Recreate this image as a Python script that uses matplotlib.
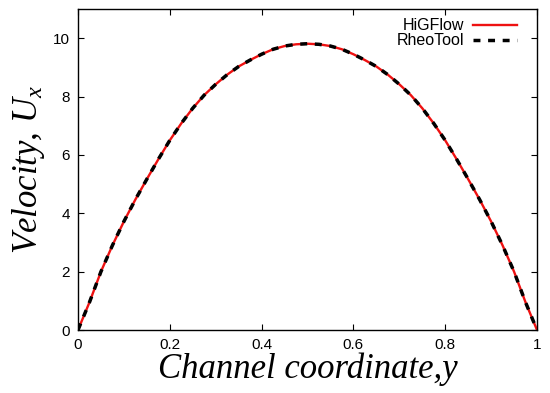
import matplotlib
matplotlib.use("Agg")
import matplotlib.pyplot as plt
from matplotlib.ticker import FuncFormatter

plt.rcParams["mathtext.fontset"] = "custom"
plt.rcParams["mathtext.it"] = "Liberation Serif:italic"
plt.rcParams["mathtext.rm"] = "Liberation Serif"

y_left = [0.0, 0.025, 0.05, 0.075, 0.1, 0.125, 0.15, 0.175, 0.2, 0.225, 0.25,
          0.275, 0.3, 0.325, 0.35, 0.375, 0.4, 0.425, 0.45, 0.475, 0.5]
u_left = [0.0, 0.95, 2.0, 2.9, 3.72, 4.47, 5.17, 5.85, 6.5, 7.08, 7.6,
          8.05, 8.42, 8.75, 9.03, 9.25, 9.45, 9.62, 9.73, 9.79, 9.81]

channel_y = y_left + [round(1 - v, 3) for v in reversed(y_left[:-1])]
higflow_u = u_left + list(reversed(u_left[:-1]))
rheotool_u = list(higflow_u)

x_ticks = [0, 0.2, 0.4, 0.6, 0.8, 1.0]
y_ticks = [0, 2, 4, 6, 8, 10]

fig = plt.figure(figsize=(5.5, 3.93), dpi=100)
ax = fig.add_axes([78/550, 1 - 330/393, (537-78)/550, (330-9)/393])

ax.plot(channel_y, higflow_u, color="#ee1111", lw=1.7, label="HiGFlow")
ax.plot(channel_y, rheotool_u, color="black", lw=2.5, dashes=(2, 2.2), label="RheoTool")

ax.set_xlim(0, 1)
ax.set_ylim(0, 11)
ax.set_xticks(x_ticks)
ax.set_yticks(y_ticks)
ax.xaxis.set_major_formatter(FuncFormatter(lambda v, p: ("%g" % v)))
ax.tick_params(direction="in", length=4.5, width=0.8, top=True, right=True,
               labelsize=11, pad=6)
for lab in ax.get_xticklabels() + ax.get_yticklabels():
    lab.set_fontfamily("Liberation Sans")
for s in ax.spines.values():
    s.set_linewidth(1.0)

ax.set_xlabel("Channel coordinate,y", fontfamily="Liberation Serif", style="italic",
              fontsize=25, labelpad=0)
ax.set_ylabel(r"Velocity, $U_x$", fontfamily="Liberation Serif", style="italic",
              fontsize=25, labelpad=4)

leg = ax.legend(loc="upper right", frameon=False, markerfirst=False,
                prop={"family": "Liberation Sans", "size": 11.5},
                handlelength=2.7, handletextpad=0.6, labelspacing=0.0,
                borderaxespad=0.0, bbox_to_anchor=(1 - 14/459, 1 - 3/321))
fig.savefig("out.png", dpi=100)
